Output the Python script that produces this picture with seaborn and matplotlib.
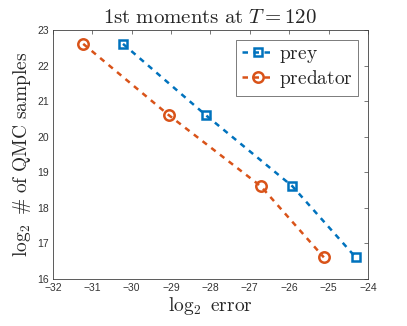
import matplotlib
matplotlib.use("Agg")
import matplotlib.pyplot as plt
import seaborn as sns
import pandas as pd

# values
prey_err = [-30.22, -28.12, -25.92, -24.31]
pred_err = [-31.23, -29.06, -26.72, -25.12]
log2_samples = [22.61, 20.61, 18.61, 16.61]
series = ["prey", "predator"]

df = pd.concat([
    pd.DataFrame({"err": prey_err, "n": log2_samples, "who": series[0]}),
    pd.DataFrame({"err": pred_err, "n": log2_samples, "who": series[1]}),
])

sns.set_style("white")
plt.rcParams["font.family"] = ["Liberation Sans", "DejaVu Sans"]
plt.rcParams["mathtext.fontset"] = "cm"

fig = plt.figure(figsize=(4.07, 3.26), dpi=100)
ax = fig.add_axes([0.130, 0.144, 0.774, 0.764])

colors = {"prey": "#0072BD", "predator": "#D95319"}
markers = {"prey": "s", "predator": "o"}
for name in series:
    sub = df[df["who"] == name]
    sns.lineplot(data=sub, x="err", y="n", ax=ax, color=colors[name],
                 linestyle=(0, (2.2, 2.2)), linewidth=1.8, marker=markers[name],
                 markersize=6 if name == "prey" else 7.5, markerfacecolor="none",
                 markeredgecolor=colors[name], markeredgewidth=1.8,
                 label=r"$\mathrm{%s}$" % name, sort=False)

ax.set_xlim(-32, -24)
ax.set_ylim(16, 23)
ax.set_xticks(range(-32, -23))
ax.set_yticks(range(16, 24))
ax.tick_params(direction="in", length=3, width=0.5, color="#404040",
               labelsize=7.5, labelcolor="#333333", top=True, right=True, pad=3)
for s in ax.spines.values():
    s.set_color("#404040")
    s.set_linewidth(0.6)

ax.set_title(r"$\mathrm{1st\ moments\ at\ }T = 120$", fontsize=15, pad=5)
ax.set_xlabel(r"$\log_2\ \mathrm{error}$", fontsize=14, labelpad=1)
ax.set_ylabel(r"$\log_2\ \#\ \mathrm{of\ QMC\ samples}$", fontsize=14, labelpad=3)

leg = ax.legend(loc="upper right", fontsize=14, frameon=True, fancybox=False,
                edgecolor="#404040", handlelength=1.7, handletextpad=0.2,
                borderpad=0.3, labelspacing=0.15, borderaxespad=0.5)
leg.get_frame().set_linewidth(0.6)

fig.savefig("out.png", dpi=100)
